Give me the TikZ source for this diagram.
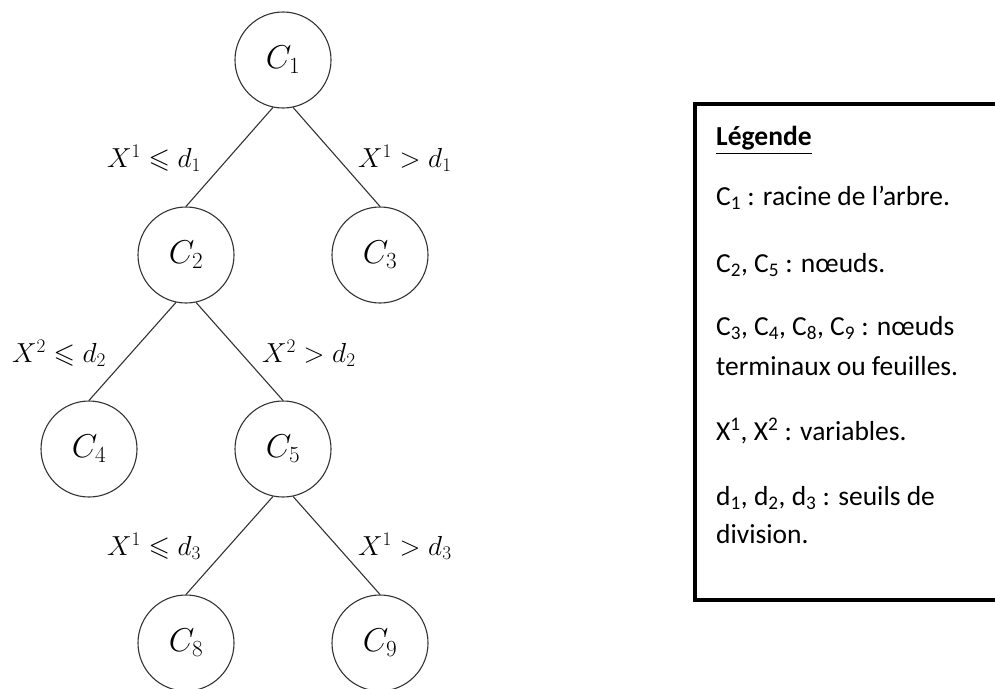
\RequirePackage{fix-cm}
\documentclass[tikz,border=0pt]{standalone}
\usepackage{amssymb}
\usepackage{fontspec}
\newfontfamily\legendfont{Carlito}
\tikzset{
  cnode/.style={circle, draw=black!80, line width=1.1pt, minimum size=96pt, inner sep=0pt, font=\fontsize{33}{38}\selectfont},
  conn/.style={draw=black!80, line width=1.1pt},
  cond/.style={anchor=base west, inner sep=0pt, font=\fontsize{27.5}{32}\selectfont},
  legtext/.style={anchor=base west, inner sep=0pt, font=\legendfont\fontsize{27.5}{39}\selectfont, align=left},
}
\begin{document}
\begin{tikzpicture}[x=1pt, y=-1pt]
\useasboundingbox (0,0) rectangle (995,688);
% tree nodes
\node[cnode] (c1) at (283,60) {$C_1$};
\node[cnode] (c2) at (186,255) {$C_2$};
\node[cnode] (c3) at (380,255) {$C_3$};
\node[cnode] (c4) at (89,449) {$C_4$};
\node[cnode] (c5) at (283,449) {$C_5$};
\node[cnode] (c8) at (186,643) {$C_8$};
\node[cnode] (c9) at (380,643) {$C_9$};
% connectors
\draw[conn] (c1.258) -- (c2.north);
\draw[conn] (c1.282) -- (c3.north);
\draw[conn] (c2.258) -- (c4.north);
\draw[conn] (c2.282) -- (c5.north);
\draw[conn] (c5.258) -- (c8.north);
\draw[conn] (c5.282) -- (c9.north);
% conditions
\node[cond] (l1) at (107,167) {$X^1\leqslant d_1$};
\node[cond] (r1) at (358,167) {$X^1> d_1$};
\node[cond] (l2) at (12,362) {$X^2\leqslant d_2$};
\node[cond] (r2) at (262,362) {$X^2> d_2$};
\node[cond] (l3) at (107,555) {$X^1\leqslant d_3$};
\node[cond] (r3) at (358,555) {$X^1> d_3$};
% legend box
\draw[line width=3.5pt, black] (1010,104) -- (695,104) -- (695,600) -- (1010,600);
\node[legtext] (lg0) at (716,145) {\textbf{\underline{Légende}}};
\node[legtext] (lg1) at (716,205) {C\textsubscript{1} : racine de l’arbre.};
\node[legtext] (lg2) at (716,272) {C\textsubscript{2}, C\textsubscript{5} : nœuds.};
\node[legtext] (lg3) at (716,335) {C\textsubscript{3}, C\textsubscript{4}, C\textsubscript{8}, C\textsubscript{9} : nœuds};
\node[legtext] (lg3b) at (716,375) {terminaux ou feuilles.};
\node[legtext] (lg4) at (716,440) {X\textsuperscript{1}, X\textsuperscript{2} : variables.};
\node[legtext] (lg5) at (716,505) {d\textsubscript{1}, d\textsubscript{2}, d\textsubscript{3} : seuils de};
\node[legtext] (lg5b) at (716,543) {division.};
\end{tikzpicture}
\end{document}
